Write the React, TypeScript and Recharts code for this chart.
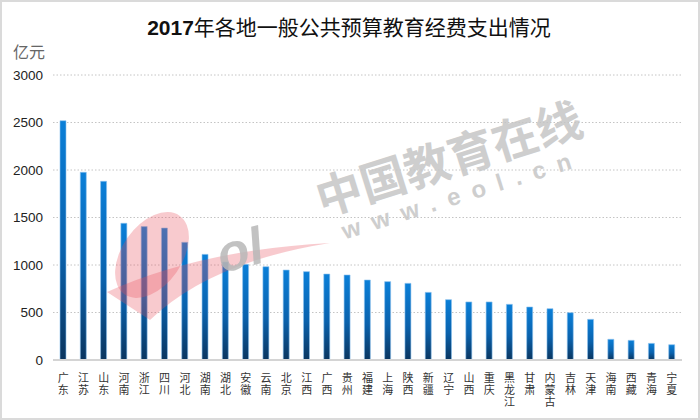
import React from 'react';
import { BarChart, Bar, XAxis, YAxis, CartesianGrid } from 'recharts';

const provinces = ['广东','江苏','山东','河南','浙江','四川','河北','湖南','湖北','安徽','云南','北京','江西','广西','贵州','福建','上海','陕西','新疆','辽宁','山西','重庆','黑龙江','甘肃','内蒙古','吉林','天津','海南','西藏','青海','宁夏'];
const spending = [2519,1976,1881,1439,1404,1389,1239,1112,1032,1007,982,947,930,905,895,842,825,807,712,635,611,611,586,558,540,498,428,218,207,175,161];
const yTicks = [0,500,1000,1500,2000,2500,3000];
const titleYear = '2017';
const titleRest = '年各地一般公共预算教育经费支出情况';
const unitLabel = '亿元';
const watermarkCn = '中国教育在线';
const watermarkUrl = 'www.eol.cn';

const data = provinces.map((p, i) => ({ name: p, value: spending[i] }));

const XTick = (props: any) => {
  const { x, y, payload } = props;
  return (
    <text x={x} y={y + 4} fontSize={11} letterSpacing={1}
      style={{ writingMode: 'vertical-rl' } as any}
      fontFamily="'Noto Sans CJK SC', sans-serif" fill="#333">
      {String(payload.value)}
    </text>
  );
};

export default function App() {
  return (
    <div style={{ position: 'absolute', left: 0, top: 0, width: 700, height: 420, background: '#fff' }}>
      <BarChart width={700} height={420} data={data} margin={{ top: 75, right: 18, left: 0, bottom: 0 }}>
        <defs>
          <linearGradient id="barGrad" x1="0" y1="0" x2="0" y2="1">
            <stop offset="0%" stopColor="#0a7fd8" />
            <stop offset="55%" stopColor="#0a62ad" />
            <stop offset="100%" stopColor="#0a355f" />
          </linearGradient>
        </defs>
        <CartesianGrid vertical={false} stroke="#c4c4c4" strokeDasharray="1.5 2" />
        <XAxis dataKey="name" interval={0} height={60} axisLine={{ stroke: '#d4d4d4', strokeWidth: 2 }}
          tickLine={false} tick={<XTick />} />
        <YAxis width={53} domain={[0, 3000]} ticks={yTicks} axisLine={false} tickLine={false}
          tickMargin={4} tick={{ fontSize: 13.5, fill: '#222', fontFamily: "'Liberation Sans', sans-serif" }} />
        <Bar dataKey="value" fill="url(#barGrad)" barSize={6} stroke="#8fc3ee" strokeWidth={0.6} isAnimationActive={false} />
      </BarChart>
      <svg width={700} height={420} style={{ position: 'absolute', left: 0, top: 0, pointerEvents: 'none' }}>
        <text x={349} y={35} textAnchor="middle" fontSize={21} fill="#111" fontFamily="'Noto Sans CJK SC', sans-serif">
          <tspan fontWeight="bold" fontFamily="'Liberation Sans', sans-serif">{titleYear}</tspan>
          <tspan>{titleRest}</tspan>
        </text>
        <text x={13} y={58} fontSize={16} fill="#666" fontFamily="'Noto Sans CJK SC', sans-serif">{unitLabel}</text>
        <g opacity={0.85}>
          <text x={448} y={156} textAnchor="middle" dominantBaseline="central" fontSize={46} fontWeight="bold"
            fill="#c6c6c6" fontFamily="'Noto Sans CJK SC', sans-serif" transform="rotate(-17.4 448 156)">{watermarkCn}</text>
          <text x={462} y={194} textAnchor="middle" dominantBaseline="central" fontSize={24} fontWeight="bold"
            letterSpacing={12} fill="#c6c6c6" fontFamily="'Liberation Sans', sans-serif" transform="rotate(-17.3 462 194)">{watermarkUrl}</text>
        </g>
        <g>
          <ellipse cx={152} cy={255} rx={48} ry={30} transform="rotate(-55 152 255)" fill="#e8505e" opacity={0.3} />
          <path d="M107 292 Q200 250 330 243 Q210 262 150 320 Z" fill="#e8505e" opacity={0.3} />
          <text x={240} y={250} textAnchor="middle" dominantBaseline="central" fontSize={52} fontWeight="bold"
            fontStyle="italic" fill="#b8b8b8" opacity={0.85} fontFamily="'Liberation Sans', sans-serif"
            transform="rotate(-15 240 250)">ol</text>
        </g>
      </svg>
      <div style={{ position: 'absolute', left: 0, top: 0, width: 700, height: 420, boxSizing: 'border-box', border: '2px solid #dadada', pointerEvents: 'none' }} />
    </div>
  );
}
